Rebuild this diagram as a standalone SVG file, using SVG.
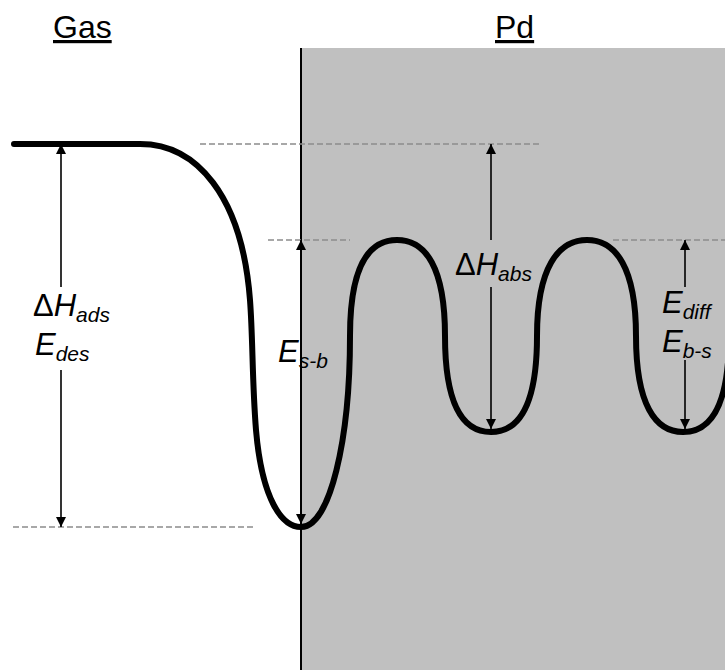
<svg xmlns="http://www.w3.org/2000/svg" width="725" height="670" viewBox="0 0 725 670">
<style>
.title{font-family:"Liberation Sans",Arial,sans-serif;font-size:32px;fill:#000;text-decoration:underline}
.lbl{font-family:"Liberation Sans",Arial,sans-serif;font-size:31px;fill:#000}
.it{font-style:italic}
.sub{font-size:21px;font-style:italic}
.dash{stroke:#8c8c8c;stroke-width:1.3;stroke-dasharray:6 3;fill:none}
.arr{stroke:#000;stroke-width:1.6;fill:none}
.curve{stroke:#000;stroke-width:6;fill:none;stroke-linecap:round;stroke-linejoin:round}
</style>
<defs>
<marker id="ah" viewBox="0 0 10 10" refX="10" refY="5" markerWidth="11" markerHeight="10" markerUnits="userSpaceOnUse" orient="auto">
<path d="M0,0 L10,5 L0,10 z" fill="#000"/>
</marker>
</defs>
<rect width="725" height="670" fill="#fff"/>
<g id="pd-region">
<rect x="301" y="48" width="424" height="622" fill="#c0c0c0"/>
<line x1="301" y1="48" x2="301" y2="670" stroke="#000" stroke-width="2"/>
</g>
<g id="titles">
<text id="gas" class="title" x="53" y="38">Gas</text>
<text id="pd" class="title" x="495" y="38">Pd</text>
</g>
<g id="dashes">
<line class="dash" x1="200" y1="144" x2="540" y2="144"/>
<line class="dash" x1="268" y1="240" x2="350" y2="240"/>
<line class="dash" x1="613" y1="240" x2="725" y2="240"/>
<line class="dash" x1="13" y1="527" x2="255" y2="527"/>
</g>
<g id="energy-curve">
<path class="curve" d="M14,144 H140 C196,144 242,195 250,300 C253,340 252,380 256,430 C262,500 282,527 301,527 C330,527 350,440 350,336 C350,268 368,240 397,240 C426,240 445,268 445,336 C445,404 463,432 491,432 C519,432 537,404 537,336 C537,268 558,240 587,240 C616,240 636,268 636,336 C636,404 655,432 683,432 C711,432 729,404 729,336"/>
</g>
<g id="connectors">
<line class="arr" x1="61" y1="287" x2="61" y2="144" marker-end="url(#ah)"/>
<line class="arr" x1="61" y1="370" x2="61" y2="527" marker-end="url(#ah)"/>
<line class="arr" x1="301" y1="260" x2="301" y2="240" marker-end="url(#ah)"/>
<line class="arr" x1="301" y1="500" x2="301" y2="524" marker-end="url(#ah)"/>
<line class="arr" x1="491" y1="240" x2="491" y2="144" marker-end="url(#ah)"/>
<line class="arr" x1="491" y1="287" x2="491" y2="429" marker-end="url(#ah)"/>
<line class="arr" x1="685" y1="287" x2="685" y2="240" marker-end="url(#ah)"/>
<line class="arr" x1="685" y1="360" x2="685" y2="429" marker-end="url(#ah)"/>
</g>
<g id="label-hads">
<text class="lbl" x="33" y="316">Δ<tspan class="it">H</tspan><tspan class="sub" dy="6">ads</tspan></text>
<text class="lbl" x="35" y="355"><tspan class="it">E</tspan><tspan class="sub" dy="6">des</tspan></text>
</g>
<g id="label-esb">
<text class="lbl" x="278" y="362"><tspan class="it">E</tspan><tspan class="sub" dy="6">s-b</tspan></text>
</g>
<g id="label-habs">
<text class="lbl" x="455" y="275">Δ<tspan class="it">H</tspan><tspan class="sub" dy="6">abs</tspan></text>
</g>
<g id="label-ediff">
<text class="lbl" x="662" y="313"><tspan class="it">E</tspan><tspan class="sub" dy="6">diff</tspan></text>
<text class="lbl" x="662" y="352"><tspan class="it">E</tspan><tspan class="sub" dy="6">b-s</tspan></text>
</g>
</svg>
